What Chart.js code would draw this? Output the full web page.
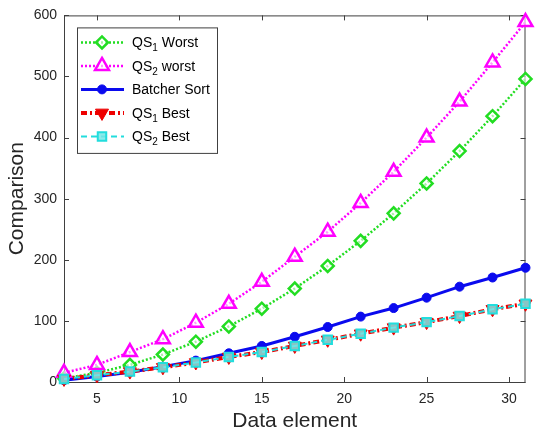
<!DOCTYPE html>
<html>
<head>
<meta charset="utf-8">
<script src="https://cdn.jsdelivr.net/npm/chart.js@4/dist/chart.umd.min.js"></script>
<style>
html, body { margin: 0; padding: 0; background: #fff; }
#wrap { width: 536px; height: 434px; position: relative; }
</style>
</head>
<body>
<div id="wrap"><canvas id="myChart" width="536" height="434"></canvas></div>
<script>
// values
var elements = [3, 5, 7, 9, 11, 13, 15, 17, 19, 21, 23, 25, 27, 29, 31];
var qs1Worst = [6, 15, 28, 45, 66, 91, 120, 153, 190, 231, 276, 325, 378, 435, 496];
var qs2Worst = [15, 28, 49, 70, 97, 128, 164, 205, 246, 293, 344, 400, 459, 523, 589];
var batcher = [3, 9, 16, 25, 35, 47, 59, 74, 90, 107, 121, 138, 156, 171, 187];
var qs1Best = [5, 11, 17, 24, 32, 41, 49, 59, 69, 79, 89, 98, 108, 119, 128];
var qs2Best = [5, 11, 17, 24, 32, 41, 49, 59, 69, 79, 89, 98, 108, 119, 128];
var xTicks = [5, 10, 15, 20, 25, 30];
var yTicks = [0, 100, 200, 300, 400, 500, 600];

var axisColor = '#404040';
var textColor = '#262626';

function pts(ys) {
    return elements.map(function(x, i) { return { x: x, y: ys[i] }; });
}

// box around the axes with inward ticks, like matlab
var boxPlugin = {
    id: 'box',
    beforeDatasetsDraw: function(chart) {
        var ctx = chart.ctx;
        var a = chart.chartArea;
        var xs = chart.scales.x, ys = chart.scales.y;
        ctx.save();
        ctx.strokeStyle = axisColor;
        ctx.lineWidth = 1;
        ctx.strokeRect(a.left + 0.5, a.top + 0.5, a.right - a.left - 1, a.bottom - a.top);
        ctx.beginPath();
        xTicks.forEach(function(v) {
            var px = Math.round(xs.getPixelForValue(v)) + 0.5;
            ctx.moveTo(px, a.bottom); ctx.lineTo(px, a.bottom - 5);
            ctx.moveTo(px, a.top); ctx.lineTo(px, a.top + 5);
        });
        yTicks.forEach(function(v) {
            var py = Math.round(ys.getPixelForValue(v)) + 0.5;
            ctx.moveTo(a.left, py); ctx.lineTo(a.left + 5, py);
            ctx.moveTo(a.right, py); ctx.lineTo(a.right - 5, py);
        });
        ctx.stroke();
        ctx.restore();
    }
};

// legend drawn inside the axes, with line + marker samples and subscripts
var subs = { '\u2081': '1', '\u2082': '2' };
var legendPlugin = {
    id: 'insideLegend',
    afterDraw: function(chart) {
        var ctx = chart.ctx;
        var a = chart.chartArea;
        var left = a.left + 13, top = a.top + 12, w = 140, rowH = 23.5;
        var sets = chart.data.datasets;
        ctx.save();
        ctx.fillStyle = '#fff';
        ctx.fillRect(left, top, w, rowH * sets.length + 8);
        ctx.strokeStyle = axisColor;
        ctx.lineWidth = 1;
        ctx.strokeRect(left + 0.5, top + 0.5, w, rowH * sets.length + 8);
        sets.forEach(function(ds, i) {
            var cy = top + 15 + i * rowH;
            ctx.save();
            ctx.strokeStyle = ds.borderColor;
            ctx.lineWidth = ds.borderWidth;
            ctx.setLineDash(ds.borderDash || []);
            ctx.beginPath();
            ctx.moveTo(left + 4, cy);
            ctx.lineTo(left + 47, cy);
            ctx.stroke();
            ctx.setLineDash([]);
            ctx.fillStyle = ds.pointBackgroundColor;
            ctx.strokeStyle = ds.pointBorderColor;
            ctx.lineWidth = ds.pointBorderWidth;
            Chart.helpers.drawPoint(ctx, {
                pointStyle: ds.pointStyle,
                radius: ds.pointRadius,
                rotation: ds.pointRotation || 0,
                borderWidth: ds.pointBorderWidth
            }, left + 25, cy);
            ctx.restore();

            var x = left + 55;
            ctx.fillStyle = '#000';
            ctx.textBaseline = 'alphabetic';
            var base = cy + 5;
            ds.label.split('').forEach(function(ch) {
                if (subs[ch]) {
                    ctx.font = '10px "Liberation Sans", Arial, sans-serif';
                    ctx.fillText(subs[ch], x, base + 4);
                    x += ctx.measureText(subs[ch]).width;
                } else {
                    ctx.font = '14px "Liberation Sans", Arial, sans-serif';
                    ctx.fillText(ch, x, base);
                    x += ctx.measureText(ch).width;
                }
            });
        });
        ctx.restore();
    }
};

var ctx = document.getElementById('myChart').getContext('2d');
var myChart = new Chart(ctx, {
    type: 'line',
    data: {
        datasets: [{
            label: 'QS\u2081 Worst',
            data: pts(qs1Worst),
            borderColor: '#22dd22',
            borderWidth: 2.5,
            borderDash: [2, 2],
            pointStyle: 'rectRot',
            pointRadius: 6,
            pointBackgroundColor: 'rgba(255,255,255,0.6)',
            pointBorderColor: '#22dd22',
            pointBorderWidth: 2.5,
            order: 4
        }, {
            label: 'QS\u2082 worst',
            data: pts(qs2Worst),
            borderColor: '#ff00ff',
            borderWidth: 2.5,
            borderDash: [2, 2],
            pointStyle: 'triangle',
            pointRadius: 8,
            pointBackgroundColor: 'rgba(255,255,255,0.6)',
            pointBorderColor: '#ff00ff',
            pointBorderWidth: 2.5,
            order: 3
        }, {
            label: 'Batcher Sort',
            data: pts(batcher),
            borderColor: '#0a0aee',
            borderWidth: 3,
            pointStyle: 'circle',
            pointRadius: 4.5,
            pointBackgroundColor: '#0a0aee',
            pointBorderColor: '#0a0aee',
            pointBorderWidth: 1,
            order: 2
        }, {
            label: 'QS\u2081 Best',
            data: pts(qs1Best),
            borderColor: '#ee0000',
            borderWidth: 4,
            borderDash: [6, 3, 2, 3],
            pointStyle: 'triangle',
            pointRotation: 180,
            pointRadius: 7.5,
            pointBackgroundColor: '#ee0000',
            pointBorderColor: '#ee0000',
            pointBorderWidth: 1,
            order: 1
        }, {
            label: 'QS\u2082 Best',
            data: pts(qs2Best),
            borderColor: '#22dddd',
            borderWidth: 2,
            borderDash: [6, 4],
            pointStyle: 'rect',
            pointRadius: 6,
            pointBackgroundColor: 'rgba(120,230,230,0.85)',
            pointBorderColor: '#22dddd',
            pointBorderWidth: 2,
            order: 0
        }]
    },
    options: {
        responsive: false,
        animation: false,
        clip: false,
        layout: { padding: { top: 15, right: 1, bottom: 0, left: 0 } },
        elements: { line: { tension: 0 } },
        plugins: {
            legend: { display: false },
            tooltip: { enabled: false }
        },
        scales: {
            x: {
                type: 'linear',
                min: 3,
                max: 31,
                afterBuildTicks: function(scale) {
                    scale.ticks = xTicks.map(function(v) { return { value: v }; });
                },
                afterFit: function(scale) { scale.height = 52; },
                grid: { display: false, drawTicks: false },
                border: { display: false },
                ticks: {
                    padding: 9,
                    color: textColor,
                    font: { family: '"Liberation Sans", Arial, sans-serif', size: 14 }
                },
                title: {
                    display: true,
                    text: 'Data element',
                    color: textColor,
                    padding: { top: 0, bottom: 0 },
                    font: { family: '"Liberation Sans", Arial, sans-serif', size: 21 }
                }
            },
            y: {
                type: 'linear',
                min: 0,
                max: 600,
                afterBuildTicks: function(scale) {
                    scale.ticks = yTicks.map(function(v) { return { value: v }; });
                },
                afterFit: function(scale) { scale.width = 64; },
                grid: { display: false, drawTicks: false },
                border: { display: false },
                ticks: {
                    padding: 7,
                    color: textColor,
                    font: { family: '"Liberation Sans", Arial, sans-serif', size: 14 }
                },
                title: {
                    display: true,
                    text: 'Comparison',
                    color: textColor,
                    padding: { top: 5, bottom: 0 },
                    font: { family: '"Liberation Sans", Arial, sans-serif', size: 21 }
                }
            }
        }
    },
    plugins: [boxPlugin, legendPlugin]
});
</script>
</body>
</html>
